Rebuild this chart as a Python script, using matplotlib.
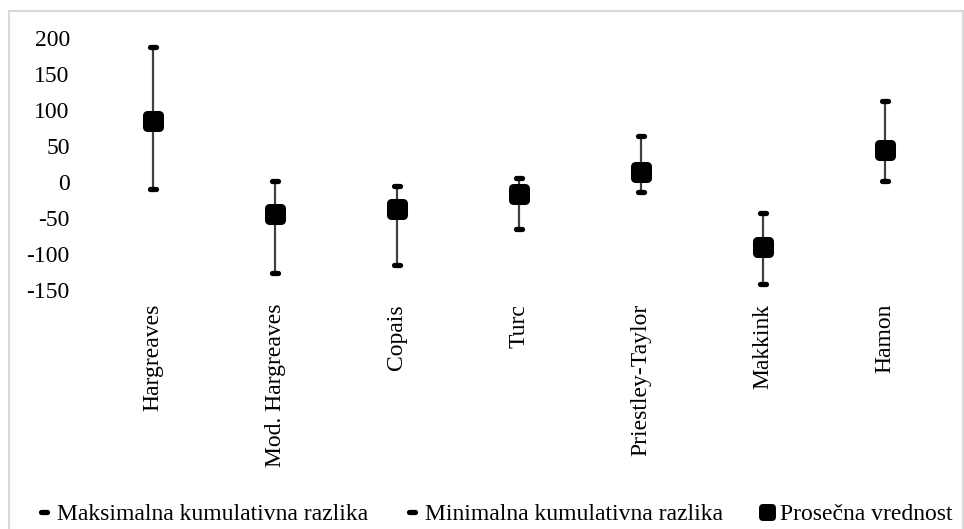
import matplotlib
matplotlib.use("Agg")
import matplotlib.pyplot as plt
from matplotlib.markers import MarkerStyle
from matplotlib.lines import Line2D
from matplotlib.patches import Rectangle

categories = ["Hargreaves", "Mod. Hargreaves", "Copais", "Turc",
              "Priestley-Taylor", "Makkink", "Hamon"]
max_vals = [188, 2, -6, 6, 64, -43, 113]
min_vals = [-10, -127, -115, -65, -14, -142, 1]
mean_vals = [85, -45, -37, -16, 14, -90, 44]
yticks = [-150, -100, -50, 0, 50, 100, 150, 200]
legend_labels = ["Maksimalna kumulativna razlika", "Minimalna kumulativna razlika",
                 "Prosečna vrednost"]

plt.rcParams['font.family'] = ['Liberation Serif', 'DejaVu Serif']
FS = 17

fig = plt.figure(figsize=(9.64, 5.29), dpi=100)
ax = fig.add_axes([92/964, 1-290/529, (946-92)/964, (290-38)/529])

x = list(range(len(categories)))
ax.vlines(x, min_vals, max_vals, color="#404040", linewidth=1.6, zorder=2)

dash = MarkerStyle('_', capstyle='round')
sq = MarkerStyle('s', joinstyle='round')
ax.plot(x, max_vals, linestyle='none', marker=dash, markersize=4.5, markeredgewidth=3.8,
        color='black', zorder=3)
ax.plot(x, min_vals, linestyle='none', marker=dash, markersize=4.5, markeredgewidth=3.8,
        color='black', zorder=3)
ax.plot(x, mean_vals, linestyle='none', marker=sq, markersize=8, markeredgewidth=6.5,
        color='black', markerfacecolor='black', zorder=4)

ax.set_xlim(-0.5, len(categories) - 0.5)
ax.set_ylim(-150, 200)
ax.set_yticks(yticks)
ax.set_yticklabels([str(v) for v in yticks], fontsize=FS)
ax.set_xticks(x)
ax.set_xticklabels(categories, rotation=90, fontsize=FS)
ax.tick_params(axis='y', length=0, pad=16)
ax.tick_params(axis='x', length=0, pad=10)
for s in ax.spines.values():
    s.set_visible(False)

# outer chart border
fig.patches.append(Rectangle((9/964, -0.05), (963-9)/964, 1.05 - 11/529,
                             transform=fig.transFigure, fill=False,
                             edgecolor='#d9d9d9', linewidth=1.5))

handles = [
    Line2D([], [], linestyle='none', marker=dash, markersize=5, markeredgewidth=3.8, color='black'),
    Line2D([], [], linestyle='none', marker=dash, markersize=5, markeredgewidth=3.8, color='black'),
    Line2D([], [], linestyle='none', marker=MarkerStyle('s', joinstyle='round'),
           markersize=6.5, markeredgewidth=5, color='black'),
]
fig.legend(handles, legend_labels, loc='center', bbox_to_anchor=(0.513, 1-514/529),
           ncol=3, frameon=False, fontsize=FS, handlelength=0.6, handletextpad=0.25,
           columnspacing=1.55, borderaxespad=0)

fig.savefig("out.png", dpi=100)
